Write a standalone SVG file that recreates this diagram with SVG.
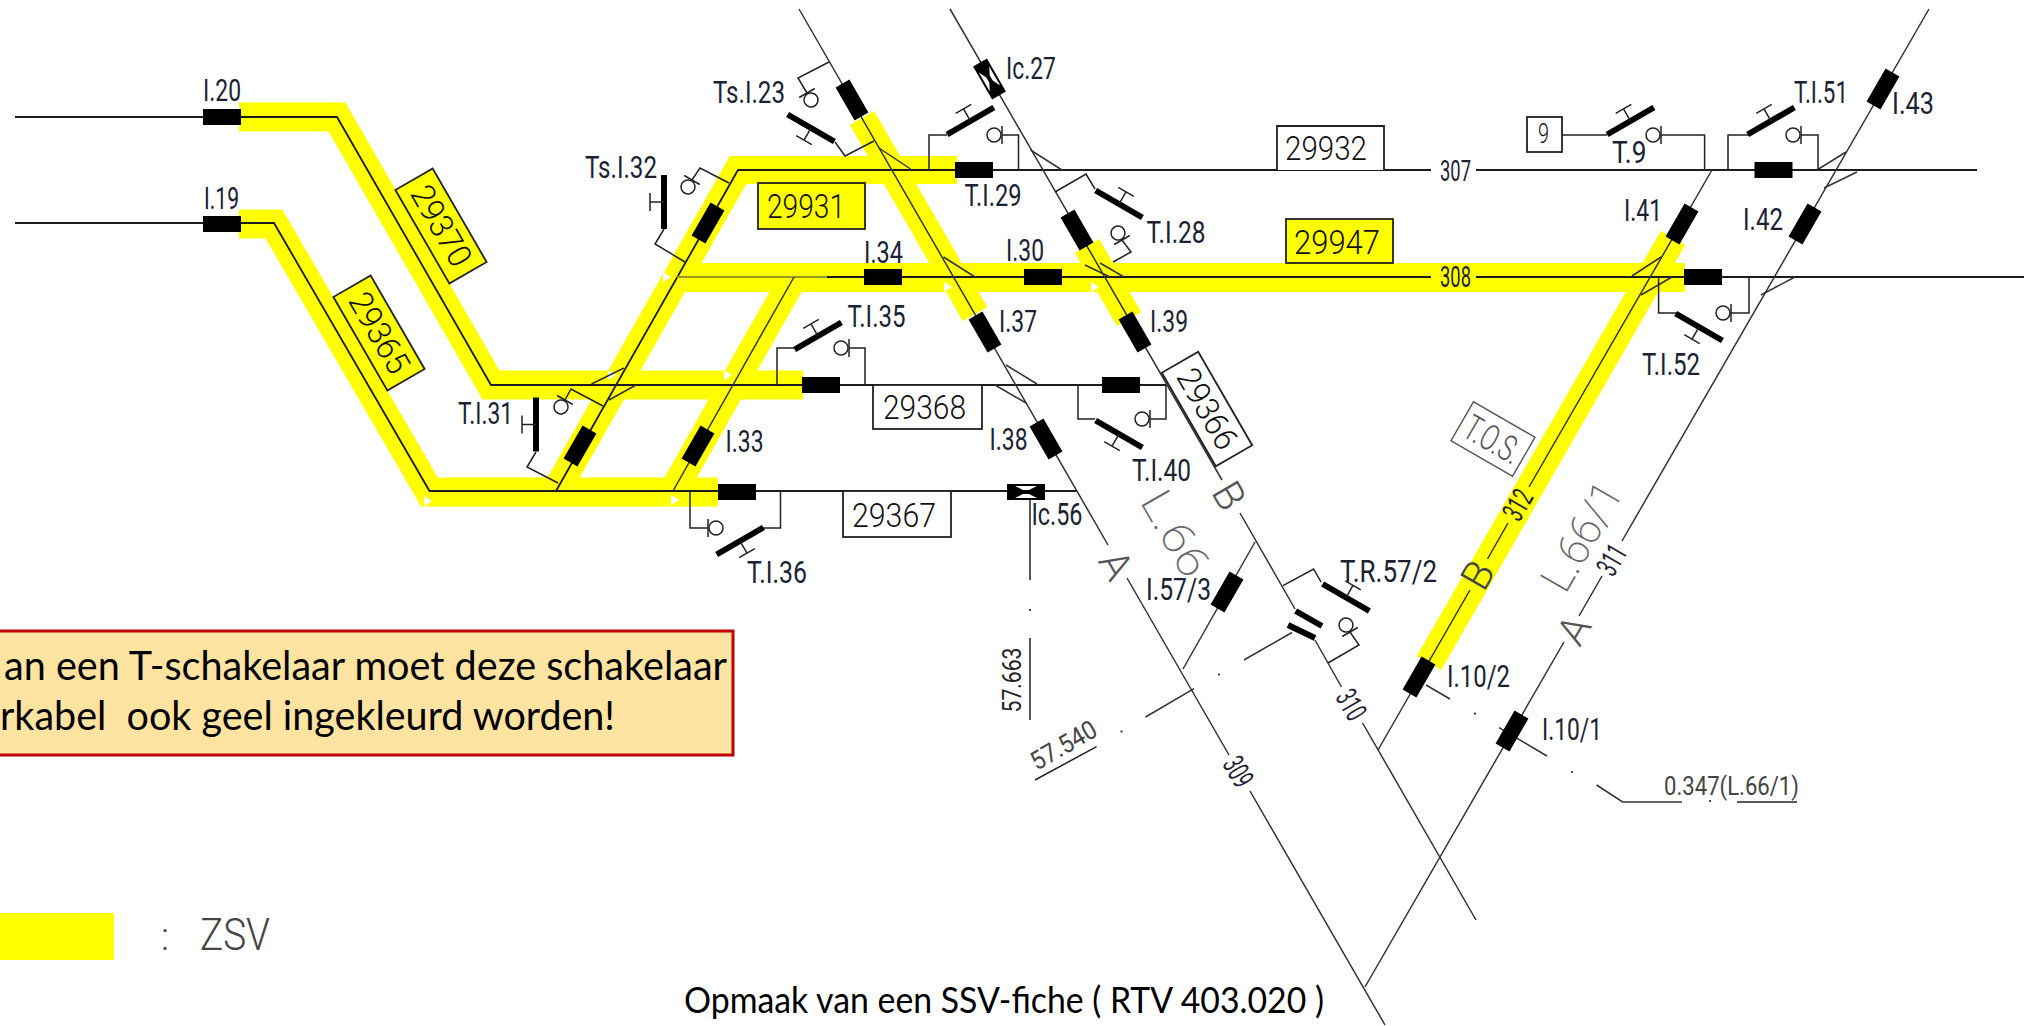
<svg xmlns="http://www.w3.org/2000/svg" xmlns:xlink="http://www.w3.org/1999/xlink" width="2026" height="1026" viewBox="0 0 2026 1026">
<style>
.y{fill:none;stroke:#ffff00;stroke-miterlimit:10}
.h{fill:none;stroke:#1c1c1c;stroke-width:1.8}
.d{fill:none;stroke:#333;stroke-width:1.5}
.w{fill:none;stroke:#222;stroke-width:1.5}
.k{fill:#000}
.b{fill:#fff;stroke:#222;stroke-width:1.8}
.by{fill:#ffff00;stroke:#222;stroke-width:1.8}
.gb{fill:#fff;stroke:#555;stroke-width:1.4}
text{font-family:Roboto,"Liberation Sans",sans-serif}
.l{font-size:31px;fill:#1b2333}
.n{font-size:33px;font-weight:300;fill:#111}
.s{font-size:30px;fill:#223}
.g{font-size:41px;font-weight:300;fill:#555}
.c{font-family:Lato,"Open Sans",sans-serif;fill:#000;white-space:pre}
</style>
<defs>
<g id="t"><rect class="k" x="-27" y="-3" width="54" height="6"/><path class="w" d="M0 0V-14M-9 -14H9"/></g>
<g id="q"><path class="w" d="M0 -9V9"/><circle class="w" cx="-8" cy="0" r="7"/></g>
<g id="bx"><rect class="k" x="-19" y="-8" width="38" height="16"/></g>
<g id="ic"><rect class="k" x="-19" y="-8" width="38" height="16"/><path fill="#fff" d="M-11 -6H11L3 -2H-3ZM-11 6H11L3 2H-3Z"/></g>
<polygon id="tri" fill="#fff" points="-4,-5 4,0 -4,5"/>
</defs>

<g id="zsv-bands">
<polyline class="y" stroke-width="29" points="239,117 337,117 491,385 803,385"/>
<polyline class="y" stroke-width="29" points="239,224 274,224 429.5,492 718,492"/>
<polyline class="y" stroke-width="28" points="556,491 738,170 957,170"/>
<polyline class="y" stroke-width="28" points="794,277 673,491"/>
<polyline class="y" stroke-width="29" points="672,277.5 1685,277.5"/>
<polyline class="y" stroke-width="28" points="862,118 975,314"/>
<polyline class="y" stroke-width="28" points="1087,246 1129,319"/>
<polyline class="y" stroke-width="28" points="1673,238 1429,663"/>
<use href="#tri" x="667" y="277"/>
<use href="#tri" x="428" y="501"/>
<use href="#tri" x="675" y="500"/>
<use href="#tri" x="728" y="375"/>
<use href="#tri" x="612" y="375"/>
<use href="#tri" x="948" y="287"/>
<use href="#tri" x="1095" y="287"/>
</g>

<g id="connectors">
<path class="h" d="M15 117H337L491 385H1166"/>
<path class="h" d="M15 223H274L429.5 491H1077"/>
<path class="h" d="M556 491L738 170H1431M1476 170H1977"/>
<path class="h" style="stroke:#9a9a20" d="M677 277H827"/>
<path class="h" d="M827 277H1431M1476 277H2024"/>
<path class="d" d="M794 277L673 491"/>
<path class="d" d="M799 9L1108 545M1127 578L1229 755M1250 791L1385 1025"/>
<path class="d" d="M950 9L1222 480M1240 513L1295 609M1315 640L1341.5 687M1362.6 723L1476 920"/>
<path class="d" d="M1929 9L1622 541M1602 576L1579 616M1564 642L1365 987"/>
<path class="d" d="M1712 170L1529 487M1508 523L1487.5 559M1470 590L1378 750"/>
<path class="d" d="M1183 669L1255 542"/>
<path class="w" d="M1030 491V580M1030 638V720"/>
<path class="d" d="M1145.6 717L1194 688.6M1426 685L1450 699M1499 727.6L1547 756M1596.6 785L1622.6 802H1682"/>
<path class="d" d="M1244 660L1292 632.5"/>
<path class="d" d="M879 148L912 170M1030.5 150L1062 170M943.5 257L975 277M1100 263L1124 277M1085 265L1110 277M1006 365L1037 384M995 385L1026 403M591.5 384L624 368M609 400L636 385M1817 170L1846 152M1824 188L1857 172M1632 276L1661 257M1641 295L1672 277M1761 295L1795 277"/>
<path class="w" d="M664 229L655 244L685 262M729 183L700 168L692 180M536 452L527 467L558 483M603 406L571 389L565 400M835 142L845 156L874 141M829 62L798 78L807 93M929 170V135H947M1018.5 170V135H1002M1055 192L1086 174L1095 189M1113 262L1131 252L1122 240M777 385V348H795M865 385V348H849M1078 385V419H1095M1166 385V419H1150M690 491V528H708M780.5 491V528H763M1562 135H1607M1704.6 170V135H1661M1728 170V135H1748M1818 170V135H1801M1658.6 277V313H1676M1749 277V313H1731M1283 585.6L1313.6 569L1321 582M1328 663L1359 645L1350 632"/>
</g>

<g id="marks" fill="#222">
<circle cx="1030" cy="610" r="1.1"/><circle cx="1121.5" cy="731.5" r="1.1"/><circle cx="1219" cy="674.5" r="1.1"/><circle cx="1475" cy="713.6" r="1.1"/><circle cx="1572" cy="772" r="1.1"/><circle cx="1710" cy="801" r="1.1"/>
<path class="w" d="M1737 802H1797M1035 780L1096.6 746.6"/>
</g>

<g id="I.20"><use href="#bx" x="222" y="117"/><text class="l" x="203" y="101" textLength="38" lengthAdjust="spacingAndGlyphs">I.20</text></g>
<g id="I.19"><use href="#bx" x="222" y="224"/><text class="l" x="204" y="209" textLength="35" lengthAdjust="spacingAndGlyphs">I.19</text></g>
<g id="I.T29"><use href="#bx" x="974" y="170"/></g>
<g id="I.34"><use href="#bx" x="883" y="277"/><text class="l" x="864" y="263" textLength="39" lengthAdjust="spacingAndGlyphs">I.34</text></g>
<g id="I.30"><use href="#bx" x="1043" y="277"/><text class="l" x="1006" y="261" textLength="38" lengthAdjust="spacingAndGlyphs">I.30</text></g>
<g id="I.T35"><use href="#bx" x="821" y="385"/></g>
<g id="I.T40"><use href="#bx" x="1121" y="385"/></g>
<g id="I.T36"><use href="#bx" x="737" y="492"/></g>
<g id="I.T51"><use href="#bx" x="1773.5" y="170"/></g>
<g id="I.T52"><use href="#bx" x="1703" y="277"/></g>
<g id="Ic.56"><use href="#ic" x="1026" y="492"/><text class="l" x="1031.5" y="525" textLength="51" lengthAdjust="spacingAndGlyphs">Ic.56</text></g>
<g id="I.Ts23"><use href="#bx" transform="translate(852,100) rotate(60)"/></g>
<g id="I.37"><use href="#bx" transform="translate(985,332) rotate(60)"/><text class="l" x="999" y="332" textLength="38" lengthAdjust="spacingAndGlyphs">I.37</text></g>
<g id="I.38"><use href="#bx" transform="translate(1046,439) rotate(60)"/><text class="l" x="989.5" y="450" textLength="38" lengthAdjust="spacingAndGlyphs">I.38</text></g>
<g id="I.39"><use href="#bx" transform="translate(1135,332) rotate(60)"/><text class="l" x="1150" y="332" textLength="38" lengthAdjust="spacingAndGlyphs">I.39</text></g>
<g id="I.T28"><use href="#bx" transform="translate(1077,230) rotate(60)"/></g>
<g id="Ic.27"><use href="#ic" transform="translate(989.5,79) rotate(60)"/><text class="l" x="1006" y="79" textLength="50" lengthAdjust="spacingAndGlyphs">Ic.27</text></g>
<g id="I.T31"><use href="#bx" transform="translate(580,446) rotate(-60)"/></g>
<g id="I.Ts32"><use href="#bx" transform="translate(708,223) rotate(-60)"/></g>
<g id="I.33"><use href="#bx" transform="translate(698,446) rotate(-60)"/><text class="l" x="725.6" y="452" textLength="38" lengthAdjust="spacingAndGlyphs">I.33</text></g>
<g id="I.41"><use href="#bx" transform="translate(1682,224) rotate(-60)"/><text class="l" x="1624" y="221" textLength="38" lengthAdjust="spacingAndGlyphs">I.41</text></g>
<g id="I.42"><use href="#bx" transform="translate(1805,224) rotate(-60)"/><text class="l" x="1743" y="230" textLength="40" lengthAdjust="spacingAndGlyphs">I.42</text></g>
<g id="I.43"><use href="#bx" transform="translate(1883,89) rotate(-60)"/><text class="l" x="1892" y="114" textLength="42" lengthAdjust="spacingAndGlyphs">I.43</text></g>
<g id="I.10-2"><use href="#bx" transform="translate(1419,677) rotate(-60)"/><text class="l" x="1447" y="687" textLength="63" lengthAdjust="spacingAndGlyphs">I.10/2</text></g>
<g id="I.10-1"><use href="#bx" transform="translate(1512,731) rotate(-60)"/><text class="l" x="1542" y="740" textLength="60" lengthAdjust="spacingAndGlyphs">I.10/1</text></g>
<g id="I.57-3"><use href="#bx" transform="translate(1227,592) rotate(-60)"/><text class="l" x="1146" y="600" textLength="65" lengthAdjust="spacingAndGlyphs">I.57/3</text></g>

<g id="Ts.I.23"><use href="#t" transform="translate(811,128) rotate(210)"/><use href="#q" transform="translate(807,93) rotate(240)"/><text class="l" x="713" y="103" textLength="72" lengthAdjust="spacingAndGlyphs">Ts.I.23</text></g>
<g id="Ts.I.32"><use href="#t" transform="translate(664,202) rotate(-90)"/><use href="#q" transform="translate(692,180) rotate(-60)"/><text class="l" x="585" y="178" textLength="72" lengthAdjust="spacingAndGlyphs">Ts.I.32</text></g>
<g id="T.I.31"><use href="#t" transform="translate(536,424.5) rotate(-90)"/><use href="#q" transform="translate(565,400) rotate(-60)"/><text class="l" x="458" y="424" textLength="55" lengthAdjust="spacingAndGlyphs">T.I.31</text></g>
<g id="T.I.29"><use href="#t" transform="translate(970.5,121) rotate(-30)"/><use href="#q" transform="translate(1002,135)"/><text class="l" x="964.5" y="206" textLength="57" lengthAdjust="spacingAndGlyphs">T.I.29</text></g>
<g id="T.I.28"><use href="#t" transform="translate(1119,204) rotate(30)"/><use href="#q" transform="translate(1122,240) rotate(60)"/><text class="l" x="1146.6" y="243" textLength="59" lengthAdjust="spacingAndGlyphs">T.I.28</text></g>
<g id="T.I.35"><use href="#t" transform="translate(818,336) rotate(-30)"/><use href="#q" transform="translate(849,348)"/><text class="l" x="847.5" y="327" textLength="58" lengthAdjust="spacingAndGlyphs">T.I.35</text></g>
<g id="T.I.40"><use href="#t" transform="translate(1119,434) rotate(210)"/><use href="#q" transform="translate(1150,419)"/><text class="l" x="1132" y="481" textLength="59" lengthAdjust="spacingAndGlyphs">T.I.40</text></g>
<g id="T.I.36"><use href="#t" transform="translate(740,541) rotate(150)"/><use href="#q" transform="translate(708,528) rotate(180)"/><text class="l" x="747" y="583" textLength="60" lengthAdjust="spacingAndGlyphs">T.I.36</text></g>
<g id="T.9"><use href="#t" transform="translate(1630.5,121) rotate(-30)"/><use href="#q" transform="translate(1661,135)"/><text class="l" x="1612" y="163" textLength="34.5" lengthAdjust="spacingAndGlyphs">T.9</text></g>
<g id="T.I.51"><use href="#t" transform="translate(1771,121) rotate(-30)"/><use href="#q" transform="translate(1801,135)"/><text class="l" x="1794" y="103" textLength="54" lengthAdjust="spacingAndGlyphs">T.I.51</text></g>
<g id="T.I.52"><use href="#t" transform="translate(1699,327) rotate(210)"/><use href="#q" transform="translate(1731,313)"/><text class="l" x="1642" y="375" textLength="58" lengthAdjust="spacingAndGlyphs">T.I.52</text></g>
<g id="T.R.57-2"><use href="#t" transform="translate(1346,597.5) rotate(30)"/><use href="#q" transform="translate(1350,632) rotate(60)"/><path d="M1295.6 611L1322 626M1288 625L1315 638" stroke="#000" stroke-width="6" fill="none"/><text class="l" x="1340" y="582" textLength="97" lengthAdjust="spacingAndGlyphs">T.R.57/2</text></g>

<g id="sec-29370"><rect class="by" x="-54" y="-21.5" width="108" height="43" transform="translate(441,226) rotate(60)"/><text class="n" text-anchor="middle" x="0" y="11" textLength="88" lengthAdjust="spacingAndGlyphs" transform="translate(441,226) rotate(60)">29370</text></g>
<g id="sec-29365"><rect class="by" x="-54" y="-21.5" width="108" height="43" transform="translate(379,333) rotate(60)"/><text class="n" text-anchor="middle" x="0" y="11" textLength="88" lengthAdjust="spacingAndGlyphs" transform="translate(379,333) rotate(60)">29365</text></g>
<g id="sec-29366"><rect class="b" x="-54" y="-21" width="108" height="42" transform="translate(1207,409) rotate(60)"/><text class="n" text-anchor="middle" x="0" y="11" textLength="88" lengthAdjust="spacingAndGlyphs" transform="translate(1207,409) rotate(60)">29366</text></g>
<g id="sec-29931"><rect class="by" x="758" y="183" width="107" height="46"/><text class="n" x="767" y="218" textLength="78" lengthAdjust="spacingAndGlyphs">29931</text></g>
<g id="sec-29947"><rect class="by" x="1286" y="219" width="107" height="44"/><text class="n" x="1294" y="254" textLength="86" lengthAdjust="spacingAndGlyphs">29947</text></g>
<g id="sec-29932"><path class="b" d="M1277 170V126H1384V170"/><text class="n" x="1285" y="160" textLength="82" lengthAdjust="spacingAndGlyphs">29932</text></g>
<g id="sec-29368"><rect class="b" x="873" y="385" width="109" height="44"/><text class="n" x="883" y="419" textLength="83" lengthAdjust="spacingAndGlyphs">29368</text></g>
<g id="sec-29367"><rect class="b" x="843" y="491" width="108" height="46"/><text class="n" x="852" y="527" textLength="84" lengthAdjust="spacingAndGlyphs">29367</text></g>
<g id="box-9"><rect class="b" x="1527" y="117" width="35" height="35"/><text class="n" x="1538" y="143" style="font-size:27px" textLength="11" lengthAdjust="spacingAndGlyphs">9</text></g>
<g id="T.O.S"><rect class="gb" x="-35.5" y="-22.5" width="71" height="45" transform="translate(1493,439) rotate(30)"/><text text-anchor="middle" x="0" y="13" font-size="36" font-weight="300" fill="#555" textLength="60" lengthAdjust="spacingAndGlyphs" transform="translate(1493,439) rotate(30)">T.O.S.</text></g>

<g id="track-labels">
<text class="s" x="1440" y="181" textLength="31" lengthAdjust="spacingAndGlyphs">307</text>
<text class="s" x="1440" y="287" textLength="31" lengthAdjust="spacingAndGlyphs">308</text>
<text class="s" text-anchor="middle" textLength="30" lengthAdjust="spacingAndGlyphs" transform="translate(1238,772) rotate(60)" y="10">309</text>
<text class="s" text-anchor="middle" textLength="30" lengthAdjust="spacingAndGlyphs" transform="translate(1351,705) rotate(60)" y="10">310</text>
<text class="s" text-anchor="middle" textLength="30" lengthAdjust="spacingAndGlyphs" transform="translate(1612,560) rotate(-60)" y="10">311</text>
<text class="s" text-anchor="middle" textLength="30" lengthAdjust="spacingAndGlyphs" transform="translate(1518,505) rotate(-60)" y="10">312</text>
<text class="g" text-anchor="middle" transform="translate(1116,565) rotate(60)" y="14">A</text>
<text class="g" text-anchor="middle" transform="translate(1229,496) rotate(60)" y="14">B</text>
<text class="g" text-anchor="middle" transform="translate(1574,630) rotate(-60)" y="14">A</text>
<text class="g" text-anchor="middle" transform="translate(1478,575) rotate(-60)" y="14" style="fill:#444">B</text>
<text class="g" text-anchor="middle" textLength="92" lengthAdjust="spacingAndGlyphs" transform="translate(1176,533) rotate(60)" y="16" style="font-size:44px;font-weight:200;fill:#666">L.66</text>
<text class="g" text-anchor="middle" textLength="118" lengthAdjust="spacingAndGlyphs" transform="translate(1581,536) rotate(-60)" y="16" style="font-size:44px;font-weight:200;fill:#666">L.66/1</text>
<text class="s" text-anchor="middle" textLength="65" lengthAdjust="spacingAndGlyphs" transform="translate(1012,680) rotate(-90)" y="9" style="font-size:26px;fill:#222">57.663</text>
<text class="s" text-anchor="middle" textLength="72" lengthAdjust="spacingAndGlyphs" transform="translate(1064,746) rotate(-30)" y="8" style="font-size:26px;fill:#444">57.540</text>
<text class="s" x="1664" y="795" textLength="135" lengthAdjust="spacingAndGlyphs" style="font-size:25px;fill:#444">0.347(L.66/1)</text>
</g>

<g id="note">
<rect x="-10" y="631" width="743" height="124" fill="#ffe3a0" stroke="#c00000" stroke-width="3"/>
<text class="c" x="4" y="680" font-size="40" textLength="723" lengthAdjust="spacingAndGlyphs">an een T-schakelaar moet deze schakelaar</text>
<text class="c" x="0" y="730" font-size="40" textLength="615" lengthAdjust="spacingAndGlyphs">rkabel  ook geel ingekleurd worden!</text>
</g>

<g id="legend">
<rect x="0" y="913" width="114" height="47" fill="#ffff00"/>
<text x="161" y="950" font-size="38" font-weight="300" fill="#444">:</text>
<text x="200" y="950" font-size="44" font-weight="300" fill="#444" textLength="70" lengthAdjust="spacingAndGlyphs">ZSV</text>
</g>

<g id="caption">
<text class="c" x="684" y="1013" font-size="36" textLength="640" lengthAdjust="spacingAndGlyphs">Opmaak van een SSV-fiche ( RTV 403.020 )</text>
</g>
</svg>
